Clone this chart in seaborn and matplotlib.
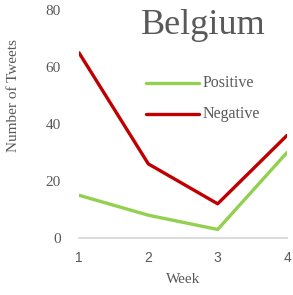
import pandas as pd
import matplotlib.pyplot as plt
import seaborn as sns

# Data
weeks = [1, 2, 3, 4]
positive = [15, 8, 3, 30]
negative = [65, 26, 12, 36]
y_ticks = [0, 20, 40, 60, 80]

df = pd.DataFrame({
    'Week': weeks * 2,
    'Tweets': positive + negative,
    'Sentiment': ['Positive'] * 4 + ['Negative'] * 4,
})

sns.set_style('white')
plt.rcParams['font.family'] = ['Liberation Serif', 'DejaVu Serif']
text_color = '#595959'

fig = plt.figure(figsize=(2.93, 2.95), dpi=100)
ax = fig.add_axes([79 / 293, 1 - 238 / 295, (287 - 79) / 293, (238 - 10) / 295])

sns.lineplot(data=df, x='Week', y='Tweets', hue='Sentiment',
             palette={'Positive': '#92D050', 'Negative': '#C00000'},
             linewidth=2.4, ax=ax, legend=False)

ax.set_xlim(1, 4)
ax.set_ylim(0, 80)
ax.set_xticks(weeks)
ax.set_yticks(y_ticks)
ax.set_xticklabels([str(w) for w in weeks], family='Liberation Sans',
                   fontsize=10, color=text_color)
ax.set_yticklabels([str(t) for t in y_ticks], fontsize=11, color=text_color)
ax.tick_params(axis='both', length=0)
ax.tick_params(axis='x', pad=9)
ax.tick_params(axis='y', pad=13)

for side in ['top', 'right', 'left']:
    ax.spines[side].set_visible(False)
ax.spines['bottom'].set_color('#D9D9D9')
ax.spines['bottom'].set_linewidth(1.3)
ax.set_facecolor('none')

ax.set_xlabel('Week', fontsize=11, color=text_color, labelpad=6)
ax.set_ylabel('Number of Tweets', fontsize=11, color=text_color)
ax.yaxis.set_label_coords(-0.285, 0.625)

# title placed inside the plot area
fig.text(203 / 293, 1 - 25 / 295, 'Belgium', fontsize=26, color=text_color,
         ha='center', va='center')

# custom legend
for label, color, ypix in [('Positive', '#92D050', 83), ('Negative', '#C00000', 114)]:
    yf = 1 - ypix / 295
    fig.add_artist(plt.Line2D([146 / 293, 199 / 293], [yf, yf], color=color,
                              linewidth=2.4, transform=fig.transFigure))
    fig.text(203 / 293, yf, label, fontsize=11.5, color=text_color, va='center')

fig.savefig('out.png', dpi=100)
plt.close(fig)
